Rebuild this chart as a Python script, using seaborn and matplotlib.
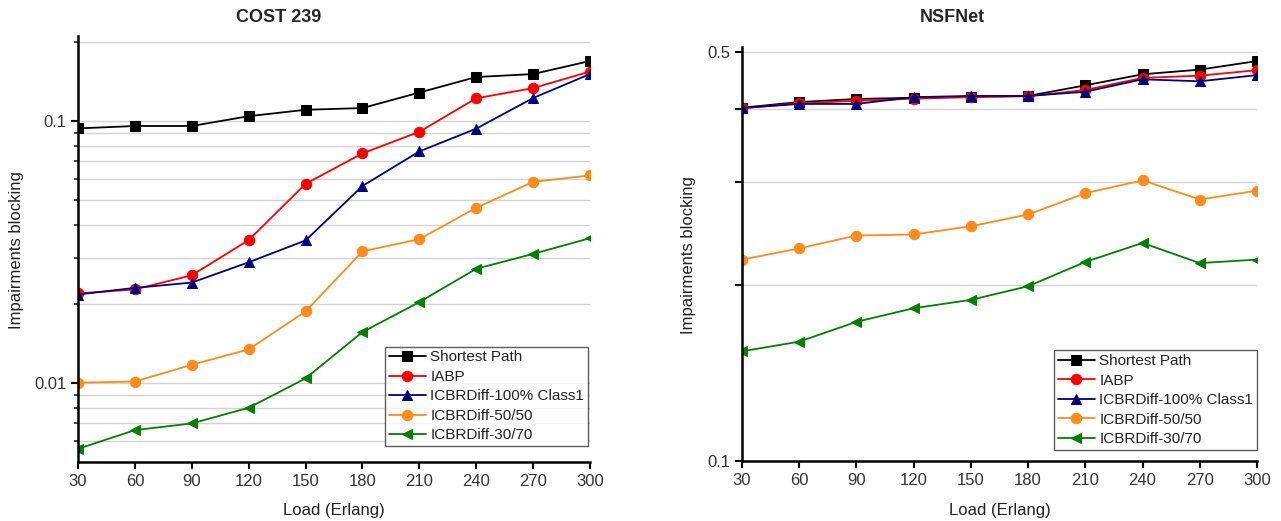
"""Impairment blocking vs. load for COST 239 and NSFNet."""

import matplotlib

matplotlib.use("Agg")
import matplotlib.pyplot as plt
import seaborn as sns
from matplotlib.ticker import NullFormatter

loads = [30, 60, 90, 120, 150, 180, 210, 240, 270, 300]
series_names = [
    "Shortest Path",
    "IABP",
    "ICBRDiff-100% Class1",
    "ICBRDiff-50/50",
    "ICBRDiff-30/70",
]

# COST 239
cost_shortest = [0.0934, 0.0954, 0.0954, 0.104, 0.110, 0.1117, 0.128, 0.1467, 0.1506, 0.1689]
cost_iabp = [0.0219, 0.0227, 0.0257, 0.0350, 0.0574, 0.0750, 0.0907, 0.1217, 0.1331, 0.154]
cost_icbr100 = [0.0217, 0.0230, 0.0241, 0.0288, 0.0349, 0.0563, 0.0763, 0.0932, 0.1220, 0.1506]
cost_icbr5050 = [0.0100, 0.0101, 0.0117, 0.0134, 0.0187, 0.0317, 0.0353, 0.0465, 0.0584, 0.0618]
cost_icbr3070 = [0.00559, 0.00659, 0.00699, 0.00802, 0.01038, 0.0156, 0.0203, 0.0272, 0.0310, 0.0356]

# NSFNet
nsf_shortest = [0.402, 0.411, 0.416, 0.418, 0.420, 0.421, 0.439, 0.4585, 0.467, 0.483]
nsf_iabp = [0.401, 0.409, 0.413, 0.4165, 0.419, 0.4205, 0.431, 0.452, 0.456, 0.466]
nsf_icbr100 = [0.4015, 0.408, 0.408, 0.419, 0.421, 0.421, 0.428, 0.4495, 0.446, 0.457]
nsf_icbr5050 = [0.221, 0.231, 0.243, 0.244, 0.252, 0.264, 0.287, 0.302, 0.280, 0.290]
nsf_icbr3070 = [0.154, 0.160, 0.173, 0.1825, 0.1886, 0.199, 0.219, 0.236, 0.218, 0.221]

colors = ["#000000", "#ff0000", "#000080", "#ff8c1a", "#008000"]
markers = ["s", "o", "^", "o", "<"]

W, H = 1281, 521


def px_axes(fig, x0, y0, x1, y1):
    return fig.add_axes([x0 / W, (H - y1) / H, (x1 - x0) / W, (y1 - y0) / H])


def draw_panel(ax, values, ylim, legend_anchor):
    for name, vals, color, marker in zip(series_names, values, colors, markers):
        sns.lineplot(
            x=loads,
            y=vals,
            ax=ax,
            color=color,
            marker=marker,
            markersize=7.5,
            markeredgecolor=color,
            linewidth=1.3,
            label=name,
        )
    ax.set_yscale("log")
    ax.set_xlim(30, 300)
    ax.set_ylim(*ylim)
    ax.set_xticks(loads)
    ax.yaxis.set_minor_formatter(NullFormatter())
    ax.grid(True, which="both", axis="y", color="#d2d2d2", linewidth=1.0)
    ax.grid(False, axis="x")
    ax.set_axisbelow(True)
    for side in ("top", "right"):
        ax.spines[side].set_visible(False)
    for side in ("left", "bottom"):
        ax.spines[side].set_linewidth(1.8)
        ax.spines[side].set_color("black")
    ax.tick_params(axis="both", which="major", direction="out", length=5, width=1.5,
                   labelsize=12, colors="black", labelcolor="#333333")
    ax.tick_params(axis="y", which="minor", direction="out", length=3, width=1.2)
    ax.set_xlabel("")
    ax.set_ylabel("")
    leg = ax.legend(
        loc="lower right",
        bbox_to_anchor=legend_anchor,
        borderaxespad=0,
        frameon=True,
        fancybox=False,
        fontsize=11,
        labelspacing=0.36,
        handlelength=2.4,
        handletextpad=0.3,
        borderpad=0.25,
    )
    leg.get_frame().set_edgecolor("#333333")
    leg.get_frame().set_linewidth(1.0)
    for text in leg.get_texts():
        text.set_color("#222222")


sns.set_style("ticks")
plt.rcParams["font.family"] = ["Liberation Sans", "DejaVu Sans"]

fig = plt.figure(figsize=(W / 100, H / 100), dpi=100)

ax1 = px_axes(fig, 78, 36, 590, 462)
draw_panel(
    ax1,
    [cost_shortest, cost_iabp, cost_icbr100, cost_icbr5050, cost_icbr3070],
    (0.00498, 0.2104),
    (0.996, 0.037),
)
ax1.set_yticks([0.01, 0.1])
ax1.set_yticklabels(["0.01", "0.1"])
ax1.set_yticks([0.006, 0.007, 0.008, 0.009] + [0.02, 0.03, 0.04, 0.05, 0.06, 0.07, 0.08, 0.09, 0.2],
               minor=True)

ax2 = px_axes(fig, 742, 47, 1257, 461)
draw_panel(
    ax2,
    [nsf_shortest, nsf_iabp, nsf_icbr100, nsf_icbr5050, nsf_icbr3070],
    (0.1, 0.5105),
    (1.0, 0.027),
)
ax2.set_yticks([0.1, 0.2, 0.3, 0.4, 0.5])
ax2.set_yticklabels(["0.1", "", "", "", "0.5"])
ax2.set_yticks([], minor=True)

fig.text(279 / W, 1 - 17 / H, "COST 239", ha="center", va="center", fontsize=13, fontweight="bold")
fig.text(952 / W, 1 - 17 / H, "NSFNet", ha="center", va="center", fontsize=13, fontweight="bold")
for xc in (334, 1000):
    fig.text(xc / W, 1 - 510 / H, "Load (Erlang)", ha="center", va="center", fontsize=12,
             color="#222222")
fig.text(17 / W, 1 - 250 / H, "Impairments blocking", ha="center", va="center", rotation=90,
         fontsize=12, color="#222222")
fig.text(688 / W, 1 - 255 / H, "Impairments blocking", ha="center", va="center", rotation=90,
         fontsize=12, color="#222222")

fig.savefig("out.png", dpi=100)
plt.close(fig)
